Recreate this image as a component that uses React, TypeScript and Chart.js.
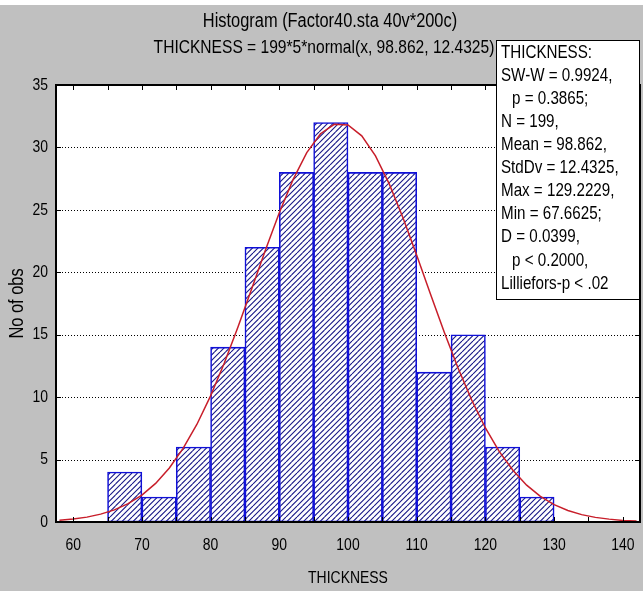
import React, { useEffect, useRef } from 'react';
import { Chart, registerables } from 'chart.js';

Chart.register(...registerables);

// ---- data ----
const binStarts = [65, 70, 75, 80, 85, 90, 95, 100, 105, 110, 115, 120, 125];
const binWidth = 5;
const counts = [4, 2, 6, 14, 22, 28, 32, 28, 28, 12, 15, 6, 2];

const curveX = [58, 60, 62, 64, 66, 68, 70, 72, 74, 76, 78, 80, 82, 84, 86, 88, 90, 92, 94, 96, 98, 100,
  102, 104, 106, 108, 110, 112, 114, 116, 118, 120, 122, 124, 126, 128, 130, 132, 134, 136, 138, 140, 142];
const curveY = [0.14, 0.24, 0.39, 0.63, 0.97, 1.47, 2.16, 3.09, 4.33, 5.89, 7.81, 10.1, 12.73, 15.63, 18.7,
  21.8, 24.77, 27.42, 29.58, 31.1, 31.85, 31.8, 30.93, 29.32, 27.08, 24.37, 21.37, 18.27, 15.21, 12.35, 9.77,
  7.53, 5.65, 4.14, 2.95, 2.05, 1.39, 0.92, 0.59, 0.37, 0.23, 0.13, 0.08];

const xMin = 57.5;
const xMax = 142.5;
const yMin = 0;
const yMax = 35;
const xTickLabels = [60, 70, 80, 90, 100, 110, 120, 130, 140];
const xTickMarks = [60, 65, 70, 75, 80, 85, 90, 95, 100, 105, 110, 115, 120, 125, 130, 135, 140];
const yTickLabels = [0, 5, 10, 15, 20, 25, 30, 35];
const yGridValues = [5, 10, 15, 20, 25, 30];

const titleLine1 = 'Histogram (Factor40.sta 40v*200c)';
const titleLine2 = 'THICKNESS = 199*5*normal(x, 98.862, 12.4325)';
const xTitle = 'THICKNESS';
const yTitle = 'No of obs';
const statsLines = [
  'THICKNESS:',
  'SW-W = 0.9924,',
  '  p = 0.3865;',
  'N = 199,',
  'Mean = 98.862,',
  'StdDv = 12.4325,',
  'Max = 129.2229,',
  'Min = 67.6625;',
  'D = 0.0399,',
  '  p < 0.2000,',
  'Lilliefors-p < .02',
];

const BG = '#c0c0c0';
const FONT = "'Liberation Sans', Arial, sans-serif";
const NARROW = 0.82;

function narrowText(
  ctx: CanvasRenderingContext2D,
  text: string,
  x: number,
  y: number,
  size: number,
  align: CanvasTextAlign,
  rotate = false
) {
  ctx.save();
  ctx.translate(x, y);
  if (rotate) ctx.rotate(-Math.PI / 2);
  ctx.scale(NARROW, 1);
  ctx.font = `${size}px ${FONT}`;
  ctx.textAlign = align;
  ctx.textBaseline = 'middle';
  ctx.fillStyle = '#000';
  ctx.fillText(text, 0, 0);
  ctx.restore();
}

function makeHatch(): CanvasPattern | string {
  const p = document.createElement('canvas');
  p.width = 11;
  p.height = 11;
  const c = p.getContext('2d');
  if (!c) return '#ffffff';
  c.fillStyle = '#ffffff';
  c.fillRect(0, 0, 11, 11);
  c.strokeStyle = '#1a1a88';
  c.lineWidth = 1.1;
  c.beginPath();
  for (let k = -1; k <= 5; k++) {
    const cc = k * 5.5;
    c.moveTo(cc, 0);
    c.lineTo(cc - 11, 11);
  }
  c.stroke();
  const pat = c.createPattern(p, 'repeat');
  return pat || '#ffffff';
}

const framePlugin = {
  id: 'statFrame',
  beforeDraw(chart: any) {
    const { ctx } = chart;
    ctx.save();
    ctx.fillStyle = BG;
    ctx.fillRect(0, 0, chart.width, chart.height);
    ctx.fillStyle = '#ffffff';
    ctx.fillRect(0, 0, chart.width, 5);
    ctx.restore();
  },
  beforeDatasetsDraw(chart: any) {
    const { ctx, chartArea: a, scales } = chart;
    ctx.save();
    ctx.fillStyle = '#ffffff';
    ctx.fillRect(a.left, a.top, a.right - a.left, a.bottom - a.top);
    ctx.strokeStyle = '#000';
    ctx.lineWidth = 1;
    ctx.setLineDash([1, 2]);
    for (const v of yGridValues) {
      const y = Math.round(scales.y.getPixelForValue(v)) + 0.5;
      ctx.beginPath();
      ctx.moveTo(a.left, y);
      ctx.lineTo(a.right, y);
      ctx.stroke();
    }
    ctx.restore();
  },
  afterDatasetsDraw(chart: any) {
    const { ctx, chartArea: a, scales } = chart;
    ctx.save();
    // tick marks
    ctx.strokeStyle = '#000';
    ctx.lineWidth = 1;
    ctx.beginPath();
    for (const v of xTickMarks) {
      const x = Math.round(scales.x.getPixelForValue(v)) + 0.5;
      ctx.moveTo(x, a.top);
      ctx.lineTo(x, a.top + 5);
      ctx.moveTo(x, a.bottom);
      ctx.lineTo(x, a.bottom - 5);
    }
    for (const v of yGridValues) {
      const y = Math.round(scales.y.getPixelForValue(v)) + 0.5;
      ctx.moveTo(a.right, y);
      ctx.lineTo(a.right - 5, y);
      ctx.moveTo(a.left, y);
      ctx.lineTo(a.left + 5, y);
    }
    ctx.stroke();
    // frame
    ctx.lineWidth = 2;
    ctx.strokeRect(a.left, a.top, a.right - a.left, a.bottom - a.top);
    ctx.restore();

    // tick labels
    for (const v of xTickLabels) {
      narrowText(ctx, String(v), scales.x.getPixelForValue(v), a.bottom + 23, 17, 'center');
    }
    for (const v of yTickLabels) {
      narrowText(ctx, String(v), a.left - 8, scales.y.getPixelForValue(v), 17, 'right');
    }
    // axis titles
    narrowText(ctx, xTitle, (a.left + a.right) / 2, 578, 17, 'center');
    narrowText(ctx, yTitle, 17, (a.top + a.bottom) / 2, 20, 'center', true);
    // chart titles
    narrowText(ctx, titleLine1, 330, 21, 20, 'center');
    narrowText(ctx, titleLine2, 324, 48, 19, 'center');

    // statistics box
    ctx.save();
    const bx = 496, by = 40, bw = 143, bh = 259;
    ctx.fillStyle = '#ffffff';
    ctx.fillRect(bx, by, bw, bh);
    ctx.strokeStyle = '#000';
    ctx.lineWidth = 1;
    ctx.strokeRect(bx + 0.5, by + 0.5, bw, bh);
    ctx.restore();
    statsLines.forEach((line, i) => {
      const indent = line.startsWith('  ') ? 11 : 0;
      narrowText(ctx, line.trim(), bx + 5 + indent, by + 13 + i * 23.05, 18.5, 'left');
    });
  },
};

export default function App() {
  const ref = useRef<HTMLCanvasElement>(null);

  useEffect(() => {
    const canvas = ref.current;
    if (!canvas) return;
    const hatch = makeHatch();
    const barData = binStarts.map((s, i) => ({ x: s + binWidth / 2, y: counts[i] }));
    const curveData = curveX.map((x, i) => ({ x, y: curveY[i] }));

    const chart = new Chart(canvas, {
      type: 'bar',
      data: {
        datasets: [
          {
            type: 'line',
            data: curveData,
            borderColor: '#c81e2a',
            borderWidth: 1.5,
            pointRadius: 0,
            tension: 0,
            fill: false,
            order: 0,
          } as any,
          {
            type: 'bar',
            data: barData,
            backgroundColor: hatch as any,
            borderColor: '#1010d8',
            borderWidth: 1.6,
            borderSkipped: false,
            barPercentage: 1,
            categoryPercentage: 1,
            grouped: false,
            order: 1,
          } as any,
        ],
      },
      options: {
        animation: false,
        responsive: false,
        devicePixelRatio: 1,
        events: [],
        layout: { padding: { left: 0, right: 3, top: 85, bottom: 0 } },
        plugins: {
          legend: { display: false },
          title: { display: false },
          tooltip: { enabled: false },
        },
        scales: {
          x: {
            type: 'linear',
            min: xMin,
            max: xMax,
            offset: false,
            grid: { display: false },
            border: { display: false },
            ticks: { display: false },
            afterFit: (s: any) => {
              s.height = 69;
            },
          },
          y: {
            type: 'linear',
            min: yMin,
            max: yMax,
            grid: { display: false },
            border: { display: false },
            ticks: { display: false },
            afterFit: (s: any) => {
              s.width = 56;
            },
          },
        },
      } as any,
      plugins: [framePlugin],
    });
    return () => chart.destroy();
  }, []);

  return (
    <div style={{ position: 'absolute', left: 0, top: 0, width: 643, height: 591, background: BG }}>
      <canvas ref={ref} width={643} height={591} style={{ display: 'block', width: 643, height: 591 }} />
    </div>
  );
}
